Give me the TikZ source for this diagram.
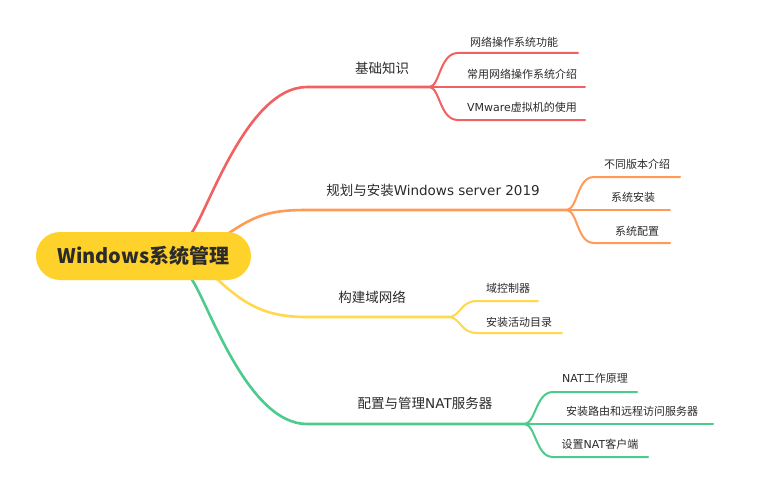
\documentclass[tikz,border=0pt]{standalone}
\usepackage{fontspec}
\setmainfont{DejaVu Sans}
\newfontfamily\cjk{Noto Sans CJK SC}
\newcommand{\C}[1]{{\cjk #1}}
\usetikzlibrary{backgrounds}
\definecolor{cred}{HTML}{F26161}
\definecolor{corange}{HTML}{FF9B57}
\definecolor{cyellow}{HTML}{FFD84F}
\definecolor{cgreen}{HTML}{4CCB8C}
\definecolor{rootfill}{HTML}{FFD22B}
\definecolor{txt}{HTML}{2B2B2B}
\begin{document}
\begin{tikzpicture}[x=1pt,y=-1pt,
  rootbox/.style={fill=rootfill, rounded corners=24pt, minimum width=215pt, minimum height=48pt, inner sep=0pt,
    font=\cjk\fontsize{20pt}{24pt}\selectfont\bfseries, text=txt},
  mainlabel/.style={font=\fontsize{13.5pt}{16pt}\selectfont, text=txt, inner sep=0pt},
  sublabel/.style={font=\fontsize{11pt}{13pt}\selectfont, text=txt, inner sep=0pt},
  mainline/.style={line width=2.6pt, line cap=round},
  subline/.style={line width=2pt, line cap=round}]
\useasboundingbox (0,0) rectangle (761,487);

\node[rootbox] (root) at (143.5,256) {Windows系统管理};

% labels
\node[mainlabel] (l1) at (382,68) {\C{基础知识}};
\node[sublabel] (l11) at (514,42) {\C{网络操作系统功能}};
\node[sublabel] (l12) at (522,74) {\C{常用网络操作系统介绍}};
\node[sublabel] (l13) at (522,107) {VMware\C{虚拟机的使用}};

\node[mainlabel] (l2) at (433,190) {\C{规划与安装}Windows server 2019};
\node[sublabel] (l21) at (637,164) {\C{不同版本介绍}};
\node[sublabel] (l22) at (633,197) {\C{系统安装}};
\node[sublabel] (l23) at (637,231) {\C{系统配置}};

\node[mainlabel] (l3) at (372,297) {\C{构建域网络}};
\node[sublabel] (l31) at (508,288) {\C{域控制器}};
\node[sublabel] (l32) at (519,322) {\C{安装活动目录}};

\node[mainlabel] (l4) at (425,403) {\C{配置与管理}NAT\C{服务器}};
\node[sublabel] (l41) at (595,378) {NAT\C{工作原理}};
\node[sublabel] (l42) at (632,411) {\C{安装路由和远程访问服务器}};
\node[sublabel] (l43) at (600,444) {\C{设置}NAT\C{客户端}};

% coordinates
\coordinate (s1) at ([xshift=46.5pt,yshift=-3pt]root.north);
\coordinate (h1) at (307,87);
\coordinate (f1) at (430,87);
\coordinate (e11) at (578,53);
\coordinate (e12) at (585,87);
\coordinate (e13) at (585,120);

\coordinate (s2) at ([xshift=83pt,yshift=-3pt]root.north);
\coordinate (h2) at (307,210);
\coordinate (f2) at (567,210);
\coordinate (e21) at (680,177);
\coordinate (e22) at (670,210);
\coordinate (e23) at (670,243);

\coordinate (s3) at ([xshift=71.5pt,yshift=3pt]root.south);
\coordinate (h3) at (307,317);
\coordinate (f3) at (450,317);
\coordinate (e31) at (538,301);
\coordinate (e32) at (562,333);

\coordinate (s4) at ([xshift=46.5pt,yshift=3pt]root.south);
\coordinate (h4) at (307,424);
\coordinate (f4) at (525,424);
\coordinate (e41) at (637,392);
\coordinate (e42) at (713,424);
\coordinate (e43) at (648,457);

\begin{scope}[on background layer]
\fill[white] (0,0) rectangle (761,487);
% red
\draw[mainline, cred] (s1) .. controls (205,220) and (245,87) .. (h1) -- (f1);
\draw[subline, cred] (f1) .. controls (440,85) and (440,53) .. (458,53) -- (e11);
\draw[subline, cred] (f1) -- (e12);
\draw[subline, cred] (f1) .. controls (440,89) and (440,120) .. (458,120) -- (e13);
% orange
\draw[mainline, corange] (s2) .. controls (255,215) and (270,210) .. (h2) -- (f2);
\draw[subline, corange] (f2) .. controls (578,208) and (577,177) .. (594,177) -- (e21);
\draw[subline, corange] (f2) -- (e22);
\draw[subline, corange] (f2) .. controls (578,212) and (577,243) .. (594,243) -- (e23);
% yellow
\draw[mainline, cyellow] (s3) .. controls (245,305) and (265,317) .. (h3) -- (f3);
\draw[subline, cyellow] (f3) .. controls (461,315) and (461,301) .. (477,301) -- (e31);
\draw[subline, cyellow] (f3) .. controls (461,319) and (461,333) .. (477,333) -- (e32);
% green
\draw[mainline, cgreen] (s4) .. controls (205,293) and (245,424) .. (h4) -- (f4);
\draw[subline, cgreen] (f4) .. controls (536,422) and (536,392) .. (553,392) -- (e41);
\draw[subline, cgreen] (f4) -- (e42);
\draw[subline, cgreen] (f4) .. controls (536,426) and (536,457) .. (553,457) -- (e43);
\end{scope}
\end{tikzpicture}
\end{document}
